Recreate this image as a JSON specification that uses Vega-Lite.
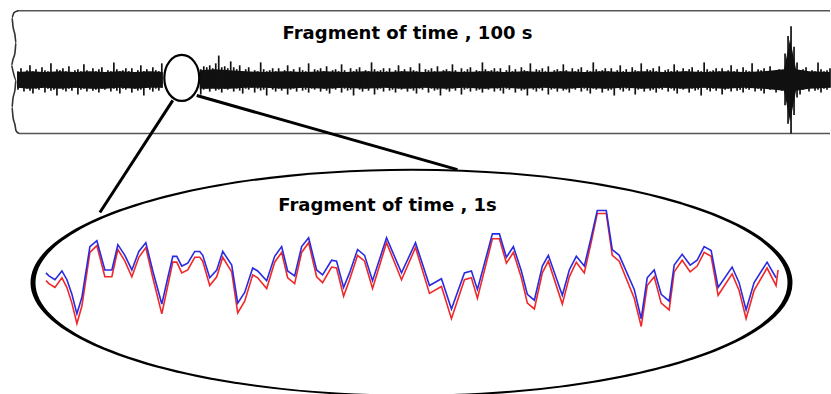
{
  "$schema": "https://vega.github.io/schema/vega-lite/v6.json",
  "width": 831,
  "height": 394,
  "padding": 0,
  "autosize": {"type": "fit", "contains": "padding"},
  "background": "white",
  "config": {"view": {"stroke": null}},
  "datasets": {
    "box": [
      {"x": 17, "y": 11, "x2": 831, "y2": 11},
      {"x": 19, "y": 137, "x2": 831, "y2": 137}
    ],
    "wave": [
      {"i": 0, "x": 18, "y": 11}, {"i": 1, "x": 14, "y": 13}, {"i": 2, "x": 12, "y": 18},
      {"i": 3, "x": 13, "y": 27}, {"i": 4, "x": 15, "y": 36}, {"i": 5, "x": 16, "y": 44},
      {"i": 6, "x": 15, "y": 54}, {"i": 7, "x": 13, "y": 61}, {"i": 8, "x": 11.5, "y": 67},
      {"i": 9, "x": 13, "y": 73}, {"i": 10, "x": 16, "y": 82}, {"i": 11, "x": 15, "y": 92},
      {"i": 12, "x": 13, "y": 101}, {"i": 13, "x": 12, "y": 110}, {"i": 14, "x": 13, "y": 120},
      {"i": 15, "x": 15, "y": 128}, {"i": 16, "x": 16, "y": 134}, {"i": 17, "x": 19, "y": 137}
    ],
    "core": [
      {"seg": "a", "x": 17, "t": 74, "b": 90}, {"seg": "a", "x": 30, "t": 73, "b": 91}, {"seg": "a", "x": 45, "t": 74, "b": 90},
      {"seg": "a", "x": 60, "t": 73, "b": 91}, {"seg": "a", "x": 75, "t": 74, "b": 90}, {"seg": "a", "x": 90, "t": 73, "b": 91},
      {"seg": "a", "x": 105, "t": 74, "b": 91}, {"seg": "a", "x": 120, "t": 73, "b": 90}, {"seg": "a", "x": 135, "t": 74, "b": 91},
      {"seg": "a", "x": 150, "t": 73, "b": 90}, {"seg": "a", "x": 163, "t": 74, "b": 90},
      {"seg": "b", "x": 200, "t": 72, "b": 91}, {"seg": "b", "x": 215, "t": 71, "b": 91}, {"seg": "b", "x": 230, "t": 72, "b": 91},
      {"seg": "b", "x": 245, "t": 73, "b": 90}, {"seg": "b", "x": 265, "t": 74, "b": 90}, {"seg": "b", "x": 285, "t": 73, "b": 91},
      {"seg": "b", "x": 305, "t": 74, "b": 90}, {"seg": "b", "x": 325, "t": 73, "b": 91}, {"seg": "b", "x": 345, "t": 74, "b": 90},
      {"seg": "b", "x": 365, "t": 73, "b": 91}, {"seg": "b", "x": 385, "t": 74, "b": 90}, {"seg": "b", "x": 405, "t": 73, "b": 91},
      {"seg": "b", "x": 425, "t": 74, "b": 90}, {"seg": "b", "x": 445, "t": 73, "b": 91}, {"seg": "b", "x": 465, "t": 74, "b": 90},
      {"seg": "b", "x": 485, "t": 73, "b": 91}, {"seg": "b", "x": 505, "t": 74, "b": 90}, {"seg": "b", "x": 525, "t": 73, "b": 91},
      {"seg": "b", "x": 545, "t": 74, "b": 90}, {"seg": "b", "x": 565, "t": 73, "b": 91}, {"seg": "b", "x": 585, "t": 74, "b": 90},
      {"seg": "b", "x": 605, "t": 73, "b": 91}, {"seg": "b", "x": 625, "t": 74, "b": 90}, {"seg": "b", "x": 645, "t": 73, "b": 91},
      {"seg": "b", "x": 665, "t": 74, "b": 90}, {"seg": "b", "x": 685, "t": 73, "b": 91}, {"seg": "b", "x": 705, "t": 74, "b": 90},
      {"seg": "b", "x": 725, "t": 73, "b": 91}, {"seg": "b", "x": 745, "t": 74, "b": 90}, {"seg": "b", "x": 765, "t": 73, "b": 91},
      {"seg": "b", "x": 785, "t": 71, "b": 93}, {"seg": "b", "x": 791, "t": 40, "b": 125}, {"seg": "b", "x": 797, "t": 71, "b": 93},
      {"seg": "b", "x": 810, "t": 73, "b": 91}, {"seg": "b", "x": 831, "t": 74, "b": 90}
    ],
    "noise": [
      {"x":18,"t":73,"b":92},{"x":21,"t":70,"b":90},{"x":24,"t":74,"b":94},{"x":27,"t":72,"b":91},{"x":30,"t":67,"b":93},
      {"x":33,"t":73,"b":96},{"x":36,"t":71,"b":91},{"x":39,"t":74,"b":92},{"x":42,"t":69,"b":90},{"x":45,"t":72,"b":95},
      {"x":48,"t":73,"b":91},{"x":51,"t":65,"b":93},{"x":54,"t":74,"b":92},{"x":57,"t":71,"b":98},{"x":60,"t":72,"b":90},
      {"x":63,"t":70,"b":92},{"x":66,"t":73,"b":94},{"x":69,"t":68,"b":91},{"x":72,"t":74,"b":93},{"x":75,"t":72,"b":90},
      {"x":78,"t":71,"b":97},{"x":81,"t":73,"b":92},{"x":84,"t":66,"b":91},{"x":87,"t":72,"b":94},{"x":90,"t":74,"b":90},
      {"x":93,"t":70,"b":93},{"x":96,"t":73,"b":92},{"x":99,"t":71,"b":95},{"x":102,"t":69,"b":91},{"x":105,"t":74,"b":92},
      {"x":108,"t":72,"b":90},{"x":111,"t":73,"b":94},{"x":114,"t":64,"b":91},{"x":117,"t":71,"b":93},{"x":120,"t":73,"b":96},
      {"x":123,"t":72,"b":91},{"x":126,"t":70,"b":92},{"x":129,"t":73,"b":90},{"x":132,"t":70,"b":95},{"x":135,"t":74,"b":91},
      {"x":138,"t":72,"b":93},{"x":141,"t":67,"b":92},{"x":144,"t":73,"b":98},{"x":147,"t":71,"b":90},{"x":150,"t":74,"b":92},
      {"x":153,"t":69,"b":94},{"x":156,"t":72,"b":91},{"x":159,"t":73,"b":93},{"x":162,"t":65,"b":90},
      {"x":201,"t":71,"b":97},{"x":204,"t":68,"b":92},{"x":207,"t":69,"b":91},{"x":210,"t":67,"b":94},{"x":213,"t":70,"b":90},
      {"x":216,"t":65,"b":93},{"x":219,"t":57,"b":92},{"x":222,"t":69,"b":95},{"x":225,"t":68,"b":91},{"x":228,"t":70,"b":92},
      {"x":231,"t":63,"b":90},{"x":234,"t":69,"b":94},{"x":237,"t":71,"b":91},{"x":240,"t":67,"b":93},{"x":243,"t":73,"b":96},
      {"x":246,"t":71,"b":91},{"x":249,"t":69,"b":92},{"x":252,"t":74,"b":90},{"x":255,"t":72,"b":95},{"x":258,"t":73,"b":91},
      {"x":261,"t":64,"b":93},{"x":264,"t":71,"b":92},{"x":267,"t":73,"b":98},{"x":270,"t":72,"b":90},{"x":273,"t":70,"b":92},
      {"x":276,"t":73,"b":94},{"x":279,"t":70,"b":91},{"x":282,"t":74,"b":93},{"x":285,"t":72,"b":90},{"x":288,"t":67,"b":97},
      {"x":291,"t":73,"b":92},{"x":294,"t":71,"b":91},{"x":297,"t":74,"b":94},{"x":300,"t":69,"b":90},{"x":303,"t":72,"b":93},
      {"x":306,"t":73,"b":92},{"x":309,"t":65,"b":95},{"x":312,"t":74,"b":91},{"x":315,"t":71,"b":92},{"x":318,"t":72,"b":90},
      {"x":321,"t":70,"b":94},{"x":324,"t":73,"b":91},{"x":327,"t":68,"b":93},{"x":330,"t":74,"b":96},{"x":333,"t":72,"b":91},
      {"x":336,"t":71,"b":92},{"x":339,"t":73,"b":90},{"x":342,"t":66,"b":95},{"x":345,"t":72,"b":91},{"x":348,"t":74,"b":93},
      {"x":351,"t":70,"b":92},{"x":354,"t":73,"b":98},{"x":357,"t":71,"b":90},{"x":360,"t":69,"b":92},{"x":363,"t":74,"b":94},
      {"x":366,"t":72,"b":91},{"x":369,"t":73,"b":93},{"x":372,"t":64,"b":90},{"x":375,"t":71,"b":97},{"x":378,"t":73,"b":92},
      {"x":381,"t":72,"b":91},{"x":384,"t":70,"b":94},{"x":387,"t":73,"b":90},{"x":390,"t":70,"b":93},{"x":393,"t":74,"b":92},
      {"x":396,"t":72,"b":95},{"x":399,"t":67,"b":91},{"x":402,"t":73,"b":92},{"x":405,"t":71,"b":90},{"x":408,"t":74,"b":94},
      {"x":411,"t":69,"b":91},{"x":414,"t":72,"b":93},{"x":417,"t":73,"b":96},{"x":420,"t":65,"b":91},{"x":423,"t":74,"b":92},
      {"x":426,"t":71,"b":90},{"x":429,"t":72,"b":95},{"x":432,"t":70,"b":91},{"x":435,"t":73,"b":93},{"x":438,"t":68,"b":92},
      {"x":441,"t":74,"b":98},{"x":444,"t":72,"b":90},{"x":447,"t":71,"b":92},{"x":450,"t":73,"b":94},{"x":453,"t":66,"b":91},
      {"x":456,"t":72,"b":93},{"x":459,"t":74,"b":90},{"x":462,"t":70,"b":97},{"x":465,"t":73,"b":92},{"x":468,"t":71,"b":91},
      {"x":471,"t":69,"b":94},{"x":474,"t":74,"b":90},{"x":477,"t":72,"b":93},{"x":480,"t":73,"b":92},{"x":483,"t":64,"b":95},
      {"x":486,"t":71,"b":91},{"x":489,"t":73,"b":92},{"x":492,"t":72,"b":90},{"x":495,"t":70,"b":94},{"x":498,"t":73,"b":91},
      {"x":501,"t":70,"b":93},{"x":504,"t":74,"b":96},{"x":507,"t":72,"b":91},{"x":510,"t":67,"b":92},{"x":513,"t":73,"b":90},
      {"x":516,"t":71,"b":95},{"x":519,"t":74,"b":91},{"x":522,"t":69,"b":93},{"x":525,"t":72,"b":92},{"x":528,"t":73,"b":98},
      {"x":531,"t":65,"b":90},{"x":534,"t":74,"b":92},{"x":537,"t":71,"b":94},{"x":540,"t":72,"b":91},{"x":543,"t":70,"b":93},
      {"x":546,"t":73,"b":90},{"x":549,"t":68,"b":97},{"x":552,"t":74,"b":92},{"x":555,"t":72,"b":91},{"x":558,"t":71,"b":94},
      {"x":561,"t":73,"b":90},{"x":564,"t":66,"b":93},{"x":567,"t":72,"b":92},{"x":570,"t":74,"b":95},{"x":573,"t":70,"b":91},
      {"x":576,"t":73,"b":92},{"x":579,"t":71,"b":90},{"x":582,"t":69,"b":94},{"x":585,"t":74,"b":91},{"x":588,"t":72,"b":93},
      {"x":591,"t":73,"b":96},{"x":594,"t":64,"b":91},{"x":597,"t":71,"b":92},{"x":600,"t":73,"b":90},{"x":603,"t":72,"b":95},
      {"x":606,"t":70,"b":91},{"x":609,"t":73,"b":93},{"x":612,"t":70,"b":92},{"x":615,"t":74,"b":98},{"x":618,"t":72,"b":90},
      {"x":621,"t":67,"b":92},{"x":624,"t":73,"b":94},{"x":627,"t":71,"b":91},{"x":630,"t":74,"b":93},{"x":633,"t":69,"b":90},
      {"x":636,"t":72,"b":97},{"x":639,"t":73,"b":92},{"x":642,"t":65,"b":91},{"x":645,"t":74,"b":94},{"x":648,"t":71,"b":90},
      {"x":651,"t":72,"b":93},{"x":654,"t":70,"b":92},{"x":657,"t":73,"b":95},{"x":660,"t":68,"b":91},{"x":663,"t":74,"b":92},
      {"x":666,"t":72,"b":90},{"x":669,"t":71,"b":94},{"x":672,"t":73,"b":91},{"x":675,"t":66,"b":93},{"x":678,"t":72,"b":96},
      {"x":681,"t":74,"b":91},{"x":684,"t":70,"b":92},{"x":687,"t":73,"b":90},{"x":690,"t":71,"b":95},{"x":693,"t":69,"b":91},
      {"x":696,"t":74,"b":93},{"x":699,"t":72,"b":92},{"x":702,"t":73,"b":98},{"x":705,"t":64,"b":90},{"x":708,"t":71,"b":92},
      {"x":711,"t":73,"b":94},{"x":714,"t":72,"b":91},{"x":717,"t":70,"b":93},{"x":720,"t":73,"b":90},{"x":723,"t":70,"b":97},
      {"x":726,"t":74,"b":92},{"x":729,"t":72,"b":91},{"x":732,"t":67,"b":94},{"x":735,"t":73,"b":90},{"x":738,"t":71,"b":93},
      {"x":741,"t":74,"b":92},{"x":744,"t":69,"b":95},{"x":747,"t":72,"b":91},{"x":750,"t":73,"b":92},{"x":753,"t":65,"b":90},
      {"x":756,"t":74,"b":94},{"x":759,"t":71,"b":91},{"x":762,"t":72,"b":93},{"x":765,"t":70,"b":96},{"x":768,"t":73,"b":91},
      {"x":771,"t":68,"b":92},{"x":774,"t":74,"b":90},{"x":777,"t":72,"b":95},{"x":780,"t":71,"b":91},{"x":783,"t":73,"b":93},
      {"x":786,"t":55,"b":108},{"x":789,"t":37,"b":127},{"x":792,"t":27,"b":137},{"x":795,"t":48,"b":118},{"x":798,"t":64,"b":100},
      {"x":801,"t":73,"b":97},{"x":804,"t":71,"b":92},{"x":807,"t":69,"b":91},{"x":810,"t":74,"b":94},{"x":813,"t":72,"b":90},
      {"x":816,"t":73,"b":93},{"x":819,"t":64,"b":92},{"x":822,"t":71,"b":95},{"x":825,"t":73,"b":91},{"x":828,"t":72,"b":92},
      {"x":831,"t":70,"b":90}
    ],
    "smallEllipse": [{"x": 182, "y": 80}],
    "connectors": [
      {"x": 173, "y": 103, "x2": 100, "y2": 218},
      {"x": 197, "y": 98, "x2": 458, "y2": 174}
    ],
    "bigEllipse": [{"x": 412, "y": 290}],
    "signal": [
      {"x":46,"blue":280,"red":288},{"x":49,"blue":283,"red":291},{"x":55,"blue":287,"red":295},{"x":62,"blue":278,"red":285},
      {"x":67,"blue":287,"red":295},{"x":72,"blue":302,"red":311},{"x":77,"blue":322,"red":332},{"x":82,"blue":305,"red":314},
      {"x":90,"blue":253,"red":259},{"x":97,"blue":247,"red":252},{"x":105,"blue":277,"red":284},{"x":112,"blue":277,"red":284},
      {"x":118,"blue":251,"red":256},{"x":125,"blue":262,"red":268},{"x":132,"blue":277,"red":284},{"x":139,"blue":258,"red":264},
      {"x":146,"blue":249,"red":254},{"x":153,"blue":278,"red":285},{"x":162,"blue":312,"red":322},{"x":168,"blue":285,"red":293},
      {"x":173,"blue":263,"red":269},{"x":177,"blue":263,"red":269},{"x":182,"blue":273,"red":280},{"x":188,"blue":270,"red":277},
      {"x":195,"blue":258,"red":264},{"x":200,"blue":258,"red":264},{"x":203,"blue":262,"red":268},{"x":210,"blue":285,"red":293},
      {"x":217,"blue":277,"red":284},{"x":223,"blue":258,"red":264},{"x":232,"blue":272,"red":279},{"x":238,"blue":311,"red":321},
      {"x":245,"blue":300,"red":309},{"x":253,"blue":275,"red":282},{"x":258,"blue":278,"red":285},{"x":267,"blue":288,"red":296},
      {"x":275,"blue":263,"red":269},{"x":282,"blue":253,"red":259},{"x":288,"blue":278,"red":285},{"x":295,"blue":283,"red":291},
      {"x":302,"blue":253,"red":259},{"x":309,"blue":244,"red":249},{"x":317,"blue":277,"red":284},{"x":323,"blue":282,"red":290},
      {"x":332,"blue":267,"red":274},{"x":337,"blue":268,"red":275},{"x":344,"blue":295,"red":304},{"x":350,"blue":280,"red":287},
      {"x":358,"blue":256,"red":262},{"x":365,"blue":262,"red":268},{"x":373,"blue":288,"red":296},{"x":387,"blue":244,"red":249},
      {"x":402,"blue":280,"red":287},{"x":416,"blue":249,"red":254},{"x":430,"blue":293,"red":301},{"x":442,"blue":286,"red":294},
      {"x":452,"blue":317,"red":327},{"x":465,"blue":280,"red":287},{"x":472,"blue":278,"red":285},{"x":478,"blue":297,"red":306},
      {"x":493,"blue":240,"red":245},{"x":500,"blue":240,"red":245},{"x":507,"blue":264,"red":270},{"x":514,"blue":253,"red":259},
      {"x":522,"blue":278,"red":285},{"x":528,"blue":302,"red":311},{"x":535,"blue":308,"red":317},{"x":543,"blue":273,"red":280},
      {"x":549,"blue":262,"red":268},{"x":563,"blue":303,"red":312},{"x":570,"blue":277,"red":284},{"x":577,"blue":263,"red":269},
      {"x":585,"blue":273,"red":280},{"x":592,"blue":243,"red":248},{"x":598,"blue":216,"red":219},{"x":607,"blue":216,"red":219},
      {"x":613,"blue":256,"red":262},{"x":620,"blue":262,"red":268},{"x":635,"blue":297,"red":306},{"x":642,"blue":327,"red":335},
      {"x":648,"blue":285,"red":293},{"x":655,"blue":277,"red":284},{"x":662,"blue":302,"red":311},{"x":670,"blue":309,"red":318},
      {"x":675,"blue":272,"red":279},{"x":683,"blue":261,"red":267},{"x":691,"blue":272,"red":279},{"x":698,"blue":267,"red":273},
      {"x":705,"blue":253,"red":259},{"x":712,"blue":257,"red":263},{"x":719,"blue":295,"red":303},{"x":733,"blue":274,"red":281},
      {"x":740,"blue":290,"red":298},{"x":747,"blue":318,"red":327},{"x":755,"blue":290,"red":298},{"x":768,"blue":269,"red":275},
      {"x":777,"blue":285,"red":293},{"x":779,"blue":null,"red":277}
    ],
    "titles": [
      {"x": 408, "y": 40, "label": "Fragment of time , 100 s"},
      {"x": 388, "y": 217, "label": "Fragment of time , 1s"}
    ]
  },
  "layer": [
    {
      "data": {"name": "box"},
      "mark": {"type": "rule", "stroke": "#555555", "strokeWidth": 1.5},
      "encoding": {
        "x": {"field": "x", "type": "quantitative", "scale": {"domain": [0, 831], "nice": false, "zero": false}, "axis": null},
        "y": {"field": "y", "type": "quantitative", "scale": {"domain": [0, 394], "nice": false, "zero": false, "reverse": true}, "axis": null},
        "x2": {"field": "x2"},
        "y2": {"field": "y2"}
      }
    },
    {
      "data": {"name": "wave"},
      "mark": {"type": "line", "stroke": "#333333", "strokeWidth": 1.6, "interpolate": "monotone"},
      "encoding": {
        "x": {"field": "x", "type": "quantitative", "scale": {"domain": [0, 831], "nice": false, "zero": false}, "axis": null},
        "y": {"field": "y", "type": "quantitative", "scale": {"domain": [0, 394], "nice": false, "zero": false, "reverse": true}, "axis": null},
        "order": {"field": "i", "type": "quantitative"}
      }
    },
    {
      "data": {"name": "core"},
      "mark": {"type": "area", "fill": "#111111", "opacity": 1},
      "encoding": {
        "x": {"field": "x", "type": "quantitative", "scale": {"domain": [0, 831], "nice": false, "zero": false}, "axis": null},
        "y": {"field": "t", "type": "quantitative", "scale": {"domain": [0, 394], "nice": false, "zero": false, "reverse": true}, "axis": null},
        "y2": {"field": "b"},
        "detail": {"field": "seg"}
      }
    },
    {
      "data": {"name": "noise"},
      "mark": {"type": "rule", "stroke": "#111111", "strokeWidth": 1.7},
      "encoding": {
        "x": {"field": "x", "type": "quantitative", "scale": {"domain": [0, 831], "nice": false, "zero": false}, "axis": null},
        "y": {"field": "t", "type": "quantitative", "scale": {"domain": [0, 394], "nice": false, "zero": false, "reverse": true}, "axis": null},
        "y2": {"field": "b"}
      }
    },
    {
      "data": {"name": "smallEllipse"},
      "mark": {
        "type": "point",
        "shape": "M 0.76 0 C 0.76 0.552 0.42 1 0 1 C -0.42 1 -0.76 0.552 -0.76 0 C -0.76 -0.552 -0.42 -1 0 -1 C 0.42 -1 0.76 -0.552 0.76 0 Z",
        "size": 2116,
        "filled": true,
        "fill": "white",
        "stroke": "black",
        "strokeWidth": 2.2,
        "opacity": 1
      },
      "encoding": {
        "x": {"field": "x", "type": "quantitative", "scale": {"domain": [0, 831], "nice": false, "zero": false}, "axis": null},
        "y": {"field": "y", "type": "quantitative", "scale": {"domain": [0, 394], "nice": false, "zero": false, "reverse": true}, "axis": null}
      }
    },
    {
      "data": {"name": "connectors"},
      "mark": {"type": "rule", "stroke": "black", "strokeWidth": 3},
      "encoding": {
        "x": {"field": "x", "type": "quantitative", "scale": {"domain": [0, 831], "nice": false, "zero": false}, "axis": null},
        "y": {"field": "y", "type": "quantitative", "scale": {"domain": [0, 394], "nice": false, "zero": false, "reverse": true}, "axis": null},
        "x2": {"field": "x2"},
        "y2": {"field": "y2"}
      }
    },
    {
      "data": {"name": "bigEllipse"},
      "mark": {
        "type": "point",
        "shape": "M 1 0 C 1 0.1652 0.5523 0.2992 0 0.2992 C -0.5523 0.2992 -1 0.1652 -1 0 C -1 -0.1652 -0.5523 -0.2992 0 -0.2992 C 0.5523 -0.2992 1 -0.1652 1 0 Z",
        "size": 580644,
        "filled": true,
        "fill": "black",
        "strokeWidth": 0,
        "opacity": 1
      },
      "encoding": {
        "x": {"field": "x", "type": "quantitative", "scale": {"domain": [0, 831], "nice": false, "zero": false}, "axis": null},
        "y": {"field": "y", "type": "quantitative", "scale": {"domain": [0, 394], "nice": false, "zero": false, "reverse": true}, "axis": null}
      }
    },
    {
      "data": {"name": "bigEllipse"},
      "mark": {
        "type": "point",
        "shape": "M 0.9869 0 C 0.9869 0.1624 0.5451 0.294 0 0.294 C -0.5451 0.294 -0.9869 0.1624 -0.9869 0 C -0.9869 -0.1624 -0.5451 -0.294 0 -0.294 C 0.5451 -0.294 0.9869 -0.1624 0.9869 0 Z",
        "size": 580644,
        "filled": true,
        "fill": "white",
        "strokeWidth": 0,
        "opacity": 1
      },
      "encoding": {
        "x": {"field": "x", "type": "quantitative", "scale": {"domain": [0, 831], "nice": false, "zero": false}, "axis": null},
        "y": {"field": "y", "type": "quantitative", "scale": {"domain": [0, 394], "nice": false, "zero": false, "reverse": true}, "axis": null}
      }
    },
    {
      "data": {"name": "signal"},
      "mark": {"type": "line", "stroke": "#f02828", "strokeWidth": 1.6},
      "encoding": {
        "x": {"field": "x", "type": "quantitative", "scale": {"domain": [0, 831], "nice": false, "zero": false}, "axis": null},
        "y": {"field": "red", "type": "quantitative", "scale": {"domain": [0, 394], "nice": false, "zero": false, "reverse": true}, "axis": null}
      }
    },
    {
      "data": {"name": "signal"},
      "mark": {"type": "line", "stroke": "#2a2ae0", "strokeWidth": 1.6},
      "encoding": {
        "x": {"field": "x", "type": "quantitative", "scale": {"domain": [0, 831], "nice": false, "zero": false}, "axis": null},
        "y": {"field": "blue", "type": "quantitative", "scale": {"domain": [0, 394], "nice": false, "zero": false, "reverse": true}, "axis": null}
      }
    },
    {
      "data": {"name": "titles"},
      "mark": {"type": "text", "font": "DejaVu Sans", "fontWeight": "bold", "fontSize": 18, "align": "center", "baseline": "alphabetic", "fill": "black"},
      "encoding": {
        "x": {"field": "x", "type": "quantitative", "scale": {"domain": [0, 831], "nice": false, "zero": false}, "axis": null},
        "y": {"field": "y", "type": "quantitative", "scale": {"domain": [0, 394], "nice": false, "zero": false, "reverse": true}, "axis": null},
        "text": {"field": "label"}
      }
    }
  ]
}
